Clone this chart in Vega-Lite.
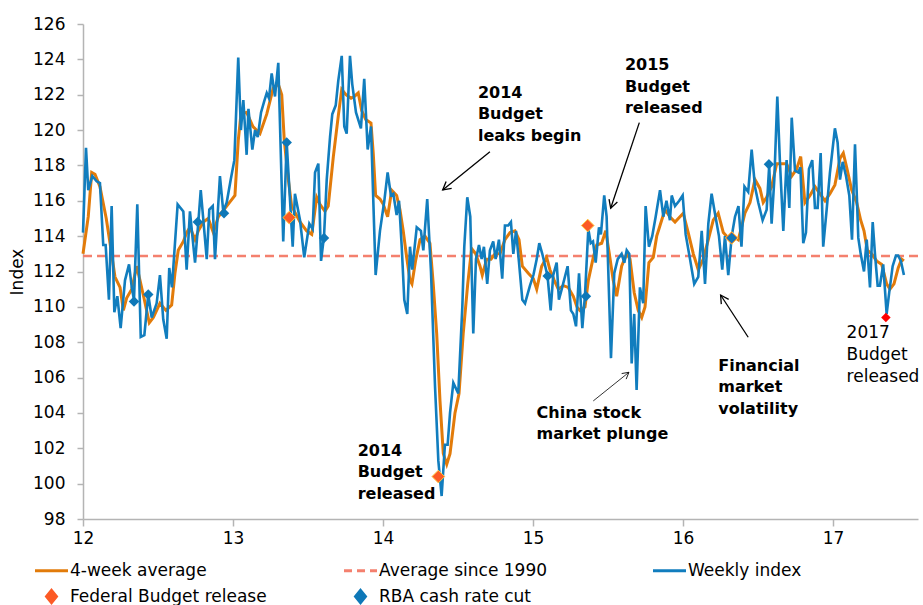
{
  "$schema": "https://vega.github.io/schema/vega-lite/v6.json",
  "width": 835,
  "height": 495,
  "autosize": {"type": "none"},
  "padding": {"left": 83, "top": 24, "right": 5, "bottom": 86},
  "background": "white",
  "config": {
    "view": {"stroke": null},
    "font": "DejaVu Sans",
    "axis": {"labelFont": "DejaVu Sans", "labelFontSize": 17, "labelColor": "#000", "domainColor": "#b4b4b4", "tickColor": "#b4b4b4", "domainWidth": 1.5, "tickWidth": 1.5, "grid": false, "titleFont": "DejaVu Sans", "titleFontSize": 17, "titleFontWeight": "normal", "titleColor": "#000", "labelOverlap": false, "labelFlush": false},
    "legend": {"labelFont": "DejaVu Sans", "labelFontSize": 17, "labelColor": "#000"}
  },
  "datasets": {
    "avgline": [{"v": 112.88}],
    "weekly": [
      {"t":12.000,"v":114.2},{"t":12.020,"v":119.0},{"t":12.035,"v":116.6},{"t":12.062,"v":117.4},{"t":12.091,"v":117.1},{"t":12.113,"v":117.0},{"t":12.135,"v":113.5},{"t":12.151,"v":113.5},{"t":12.173,"v":110.4},{"t":12.191,"v":115.7},{"t":12.209,"v":109.7},{"t":12.229,"v":110.6},{"t":12.251,"v":108.8},{"t":12.280,"v":111.5},{"t":12.307,"v":112.4},{"t":12.325,"v":111.1},{"t":12.340,"v":110.4},{"t":12.362,"v":115.8},{"t":12.385,"v":108.3},{"t":12.409,"v":108.4},{"t":12.435,"v":110.7},{"t":12.458,"v":109.4},{"t":12.491,"v":110.2},{"t":12.513,"v":111.8},{"t":12.535,"v":109.3},{"t":12.558,"v":108.2},{"t":12.575,"v":112.2},{"t":12.593,"v":111.1},{"t":12.631,"v":115.8},{"t":12.669,"v":115.4},{"t":12.691,"v":112.1},{"t":12.713,"v":115.4},{"t":12.747,"v":112.5},{"t":12.769,"v":114.8},{"t":12.785,"v":116.6},{"t":12.825,"v":112.7},{"t":12.842,"v":115.5},{"t":12.865,"v":115.7},{"t":12.880,"v":112.7},{"t":12.913,"v":117.4},{"t":12.935,"v":115.4},{"t":12.958,"v":115.9},{"t":12.985,"v":117.2},{"t":13.009,"v":118.3},{"t":13.035,"v":124.1},{"t":13.053,"v":120.0},{"t":13.069,"v":121.7},{"t":13.091,"v":118.6},{"t":13.103,"v":121.2},{"t":13.129,"v":118.9},{"t":13.147,"v":120.0},{"t":13.165,"v":119.6},{"t":13.187,"v":121.0},{"t":13.207,"v":121.6},{"t":13.225,"v":122.1},{"t":13.240,"v":121.8},{"t":13.258,"v":123.2},{"t":13.280,"v":121.9},{"t":13.302,"v":123.8},{"t":13.335,"v":113.7},{"t":13.358,"v":119.3},{"t":13.398,"v":113.4},{"t":13.413,"v":116.4},{"t":13.447,"v":114.9},{"t":13.475,"v":112.8},{"t":13.509,"v":114.7},{"t":13.531,"v":114.4},{"t":13.547,"v":117.6},{"t":13.569,"v":118.1},{"t":13.587,"v":112.6},{"t":13.607,"v":114.0},{"t":13.625,"v":117.2},{"t":13.647,"v":119.6},{"t":13.662,"v":120.9},{"t":13.685,"v":121.4},{"t":13.702,"v":122.8},{"t":13.725,"v":124.2},{"t":13.742,"v":120.2},{"t":13.758,"v":119.8},{"t":13.780,"v":124.2},{"t":13.795,"v":122.6},{"t":13.820,"v":121.0},{"t":13.853,"v":120.1},{"t":13.875,"v":122.9},{"t":13.898,"v":118.9},{"t":13.920,"v":120.2},{"t":13.951,"v":111.8},{"t":13.980,"v":114.3},{"t":14.009,"v":116.0},{"t":14.031,"v":117.6},{"t":14.053,"v":116.3},{"t":14.069,"v":116.4},{"t":14.091,"v":115.2},{"t":14.107,"v":116.0},{"t":14.125,"v":113.4},{"t":14.142,"v":110.4},{"t":14.162,"v":109.6},{"t":14.180,"v":113.4},{"t":14.195,"v":112.1},{"t":14.225,"v":114.5},{"t":14.253,"v":114.3},{"t":14.269,"v":113.2},{"t":14.295,"v":116.1},{"t":14.320,"v":112.0},{"t":14.347,"v":105.5},{"t":14.369,"v":101.3},{"t":14.391,"v":99.3},{"t":14.413,"v":102.2},{"t":14.431,"v":102.2},{"t":14.447,"v":104.0},{"t":14.469,"v":105.7},{"t":14.502,"v":105.1},{"t":14.529,"v":110.0},{"t":14.542,"v":113.4},{"t":14.562,"v":116.2},{"t":14.582,"v":115.1},{"t":14.602,"v":108.5},{"t":14.620,"v":112.7},{"t":14.640,"v":113.5},{"t":14.658,"v":112.7},{"t":14.673,"v":113.4},{"t":14.695,"v":111.3},{"t":14.713,"v":113.2},{"t":14.735,"v":113.7},{"t":14.751,"v":112.7},{"t":14.773,"v":113.8},{"t":14.795,"v":111.6},{"t":14.813,"v":114.6},{"t":14.835,"v":114.6},{"t":14.853,"v":114.8},{"t":14.869,"v":113.0},{"t":14.887,"v":114.3},{"t":14.907,"v":112.5},{"t":14.929,"v":110.4},{"t":14.947,"v":110.2},{"t":14.980,"v":111.2},{"t":15.003,"v":111.8},{"t":15.025,"v":112.7},{"t":15.042,"v":113.6},{"t":15.062,"v":113.0},{"t":15.097,"v":111.75},{"t":15.118,"v":109.8},{"t":15.135,"v":111.8},{"t":15.158,"v":112.5},{"t":15.173,"v":110.4},{"t":15.195,"v":111.1},{"t":15.231,"v":112.3},{"t":15.253,"v":109.8},{"t":15.269,"v":109.6},{"t":15.287,"v":108.9},{"t":15.307,"v":111.9},{"t":15.329,"v":108.8},{"t":15.347,"v":110.7},{"t":15.369,"v":114.4},{"t":15.385,"v":113.6},{"t":15.400,"v":113.7},{"t":15.418,"v":112.5},{"t":15.440,"v":114.5},{"t":15.453,"v":114.1},{"t":15.475,"v":116.3},{"t":15.491,"v":115.1},{"t":15.520,"v":107.1},{"t":15.542,"v":111.9},{"t":15.565,"v":112.7},{"t":15.591,"v":113.0},{"t":15.609,"v":112.5},{"t":15.625,"v":113.2},{"t":15.642,"v":113.0},{"t":15.658,"v":106.8},{"t":15.675,"v":109.6},{"t":15.691,"v":105.3},{"t":15.713,"v":111.1},{"t":15.735,"v":110.2},{"t":15.751,"v":115.7},{"t":15.773,"v":113.4},{"t":15.795,"v":114.0},{"t":15.818,"v":115.1},{"t":15.847,"v":116.6},{"t":15.869,"v":115.1},{"t":15.890,"v":116.0},{"t":15.913,"v":114.9},{"t":15.925,"v":116.3},{"t":15.947,"v":115.7},{"t":15.975,"v":116.0},{"t":15.998,"v":116.3},{"t":16.018,"v":114.1},{"t":16.047,"v":112.7},{"t":16.075,"v":111.3},{"t":16.102,"v":111.7},{"t":16.125,"v":114.3},{"t":16.147,"v":111.3},{"t":16.169,"v":114.7},{"t":16.191,"v":116.4},{"t":16.213,"v":115.3},{"t":16.240,"v":114.0},{"t":16.262,"v":112.1},{"t":16.280,"v":114.0},{"t":16.302,"v":111.8},{"t":16.325,"v":114.0},{"t":16.347,"v":115.1},{"t":16.370,"v":115.7},{"t":16.390,"v":113.4},{"t":16.410,"v":116.8},{"t":16.435,"v":116.5},{"t":16.458,"v":118.9},{"t":16.480,"v":116.8},{"t":16.502,"v":115.9},{"t":16.531,"v":114.9},{"t":16.558,"v":115.5},{"t":16.575,"v":118.0},{"t":16.591,"v":114.7},{"t":16.609,"v":117.2},{"t":16.629,"v":121.9},{"t":16.647,"v":118.1},{"t":16.669,"v":114.3},{"t":16.691,"v":118.3},{"t":16.709,"v":115.6},{"t":16.725,"v":120.7},{"t":16.747,"v":117.7},{"t":16.769,"v":117.6},{"t":16.783,"v":117.9},{"t":16.802,"v":113.6},{"t":16.820,"v":114.2},{"t":16.840,"v":117.8},{"t":16.862,"v":118.3},{"t":16.880,"v":115.6},{"t":16.898,"v":115.6},{"t":16.918,"v":118.7},{"t":16.935,"v":113.4},{"t":16.958,"v":115.5},{"t":16.980,"v":117.6},{"t":17.013,"v":120.1},{"t":17.031,"v":119.3},{"t":17.047,"v":117.2},{"t":17.065,"v":118.2},{"t":17.087,"v":117.4},{"t":17.109,"v":116.3},{"t":17.127,"v":113.8},{"t":17.147,"v":119.2},{"t":17.169,"v":113.9},{"t":17.185,"v":113.0},{"t":17.207,"v":112.0},{"t":17.225,"v":113.8},{"t":17.247,"v":111.1},{"t":17.265,"v":114.8},{"t":17.280,"v":113.0},{"t":17.298,"v":111.2},{"t":17.313,"v":111.2},{"t":17.335,"v":112.4},{"t":17.358,"v":109.6},{"t":17.375,"v":110.8},{"t":17.398,"v":112.3},{"t":17.420,"v":112.9},{"t":17.435,"v":112.9},{"t":17.453,"v":112.6},{"t":17.473,"v":111.8}
    ],
    "avg4": [
      {"t":12.000,"v":113.0},{"t":12.035,"v":115.1},{"t":12.058,"v":117.6},{"t":12.080,"v":117.5},{"t":12.113,"v":116.8},{"t":12.155,"v":115.0},{"t":12.191,"v":113.0},{"t":12.213,"v":111.7},{"t":12.247,"v":111.1},{"t":12.269,"v":109.8},{"t":12.291,"v":110.5},{"t":12.325,"v":111.0},{"t":12.358,"v":112.3},{"t":12.380,"v":111.5},{"t":12.409,"v":110.4},{"t":12.442,"v":109.1},{"t":12.469,"v":109.4},{"t":12.513,"v":110.2},{"t":12.553,"v":109.8},{"t":12.591,"v":110.1},{"t":12.613,"v":111.9},{"t":12.635,"v":113.2},{"t":12.669,"v":113.7},{"t":12.691,"v":114.2},{"t":12.713,"v":114.5},{"t":12.747,"v":113.8},{"t":12.769,"v":114.3},{"t":12.802,"v":114.8},{"t":12.835,"v":115.0},{"t":12.869,"v":114.2},{"t":12.902,"v":115.1},{"t":12.958,"v":115.7},{"t":13.013,"v":116.3},{"t":13.035,"v":119.4},{"t":13.053,"v":120.9},{"t":13.091,"v":121.0},{"t":13.133,"v":120.2},{"t":13.180,"v":119.8},{"t":13.225,"v":120.9},{"t":13.269,"v":122.4},{"t":13.302,"v":122.6},{"t":13.325,"v":122.0},{"t":13.342,"v":119.4},{"t":13.369,"v":117.2},{"t":13.391,"v":115.7},{"t":13.447,"v":114.8},{"t":13.491,"v":114.3},{"t":13.525,"v":114.1},{"t":13.558,"v":116.2},{"t":13.580,"v":115.8},{"t":13.613,"v":115.4},{"t":13.635,"v":115.7},{"t":13.669,"v":118.5},{"t":13.702,"v":120.8},{"t":13.725,"v":122.3},{"t":13.753,"v":122.0},{"t":13.787,"v":121.8},{"t":13.809,"v":121.9},{"t":13.835,"v":122.1},{"t":13.858,"v":121.1},{"t":13.885,"v":120.6},{"t":13.920,"v":120.4},{"t":13.935,"v":118.7},{"t":13.951,"v":116.3},{"t":13.980,"v":116.1},{"t":14.002,"v":115.8},{"t":14.031,"v":115.1},{"t":14.058,"v":116.6},{"t":14.091,"v":116.3},{"t":14.113,"v":115.5},{"t":14.135,"v":114.3},{"t":14.158,"v":112.8},{"t":14.180,"v":111.5},{"t":14.193,"v":111.3},{"t":14.217,"v":112.6},{"t":14.247,"v":113.8},{"t":14.280,"v":114.0},{"t":14.313,"v":113.6},{"t":14.335,"v":111.3},{"t":14.358,"v":108.5},{"t":14.380,"v":104.7},{"t":14.402,"v":101.7},{"t":14.425,"v":101.1},{"t":14.447,"v":101.7},{"t":14.480,"v":104.0},{"t":14.507,"v":105.1},{"t":14.535,"v":108.5},{"t":14.565,"v":111.3},{"t":14.591,"v":113.3},{"t":14.618,"v":113.0},{"t":14.647,"v":112.3},{"t":14.662,"v":111.8},{"t":14.691,"v":112.7},{"t":14.720,"v":112.7},{"t":14.747,"v":113.0},{"t":14.780,"v":113.0},{"t":14.813,"v":113.8},{"t":14.847,"v":114.2},{"t":14.880,"v":114.3},{"t":14.907,"v":113.8},{"t":14.929,"v":112.3},{"t":14.969,"v":111.9},{"t":15.002,"v":111.6},{"t":15.025,"v":111.0},{"t":15.058,"v":112.3},{"t":15.091,"v":112.8},{"t":15.113,"v":112.1},{"t":15.142,"v":111.5},{"t":15.169,"v":111.0},{"t":15.202,"v":111.2},{"t":15.235,"v":111.1},{"t":15.269,"v":110.6},{"t":15.293,"v":110.0},{"t":15.313,"v":109.8},{"t":15.347,"v":110.0},{"t":15.369,"v":111.5},{"t":15.402,"v":112.8},{"t":15.425,"v":113.5},{"t":15.458,"v":113.6},{"t":15.485,"v":114.3},{"t":15.509,"v":113.0},{"t":15.535,"v":111.5},{"t":15.558,"v":110.6},{"t":15.591,"v":112.3},{"t":15.625,"v":113.0},{"t":15.647,"v":112.7},{"t":15.675,"v":110.8},{"t":15.702,"v":109.8},{"t":15.725,"v":109.4},{"t":15.747,"v":110.0},{"t":15.773,"v":112.5},{"t":15.802,"v":112.8},{"t":15.825,"v":114.0},{"t":15.858,"v":114.9},{"t":15.880,"v":115.5},{"t":15.913,"v":115.1},{"t":15.947,"v":114.8},{"t":15.980,"v":115.1},{"t":16.002,"v":115.3},{"t":16.035,"v":114.2},{"t":16.069,"v":113.0},{"t":16.102,"v":112.1},{"t":16.135,"v":112.7},{"t":16.169,"v":113.8},{"t":16.202,"v":114.9},{"t":16.235,"v":115.3},{"t":16.269,"v":114.2},{"t":16.302,"v":113.9},{"t":16.335,"v":114.0},{"t":16.369,"v":113.8},{"t":16.393,"v":114.6},{"t":16.413,"v":115.3},{"t":16.447,"v":115.9},{"t":16.480,"v":117.2},{"t":16.513,"v":116.7},{"t":16.535,"v":115.9},{"t":16.558,"v":116.2},{"t":16.591,"v":116.8},{"t":16.625,"v":118.1},{"t":16.658,"v":118.1},{"t":16.691,"v":118.1},{"t":16.725,"v":117.4},{"t":16.758,"v":117.8},{"t":16.785,"v":118.5},{"t":16.813,"v":115.9},{"t":16.847,"v":116.3},{"t":16.880,"v":116.8},{"t":16.913,"v":116.4},{"t":16.947,"v":116.0},{"t":16.980,"v":116.4},{"t":17.013,"v":116.9},{"t":17.047,"v":118.4},{"t":17.069,"v":118.7},{"t":17.091,"v":117.9},{"t":17.125,"v":116.6},{"t":17.158,"v":115.9},{"t":17.185,"v":114.9},{"t":17.207,"v":114.3},{"t":17.229,"v":113.2},{"t":17.258,"v":113.0},{"t":17.291,"v":112.6},{"t":17.325,"v":112.4},{"t":17.358,"v":111.3},{"t":17.380,"v":111.0},{"t":17.407,"v":111.3},{"t":17.435,"v":112.2},{"t":17.458,"v":112.7},{"t":17.473,"v":112.6}
    ],
    "budget": [{"t":13.375,"v":115.05},{"t":14.369,"v":100.4},{"t":15.365,"v":114.6},{"t":16.325,"v":113.9},{"t":17.353,"v":109.4}],
    "rba": [{"t":12.340,"v":110.3},{"t":12.435,"v":110.7},{"t":12.765,"v":114.8},{"t":12.940,"v":115.3},{"t":13.358,"v":119.3},{"t":13.607,"v":113.9},{"t":15.098,"v":111.75},{"t":15.353,"v":110.6},{"t":16.325,"v":113.9},{"t":16.573,"v":118.06}],
    "arrows": [
      {"name":"leaks","t":14.713,"v":118.78,"t2":14.398,"v2":116.61},
      {"name":"b2015","t":15.709,"v":120.42,"t2":15.518,"v2":115.58},
      {"name":"fin","t":16.435,"v":108.28,"t2":16.251,"v2":110.67},
      {"name":"china","t":15.402,"v":104.68,"t2":15.64,"v2":106.30}
    ],
    "notesBold": [
      {"t":14.633,"v":122.10,"label":"2014\nBudget\nleaks begin"},
      {"t":15.613,"v":123.68,"label":"2015\nBudget\nreleased"},
      {"t":13.831,"v":101.85,"label":"2014\nBudget\nreleased"},
      {"t":15.024,"v":104.01,"label":"China stock\nmarket plunge"},
      {"t":16.235,"v":106.66,"label":"Financial\nmarket\nvolatility"}
    ],
    "notesRegular": [
      {"t":17.091,"v":108.51,"label":"2017\nBudget\nreleased"}
    ]
  },
  "encoding": {
    "x": {"field": "t", "type": "quantitative", "scale": {"domain": [12, 17.567], "nice": false, "zero": false}, "axis": {"values": [12, 13, 14, 15, 16, 17], "format": "d", "title": null, "tickSize": 7, "labelPadding": 4, "labelOverlap": false, "labelFlush": false}},
    "y": {"field": "v", "type": "quantitative", "scale": {"domain": [98, 126], "nice": false, "zero": false}, "axis": {"values": [98, 100, 102, 104, 106, 108, 110, 112, 114, 116, 118, 120, 122, 124, 126], "format": "d", "title": "Index", "tickSize": 6, "labelPadding": 12, "titlePadding": 6, "labelOverlap": false, "labelFlush": false, "labelBound": false, "labelSeparation": 0}}
  },
  "layer": [
    {
      "data": {"name": "avgline"},
      "mark": {"type": "rule", "strokeDash": [9, 5], "strokeWidth": 2.5},
      "encoding": {
        "x": null,
        "color": {
          "datum": "Average since 1990",
          "type": "nominal",
          "scale": {
            "domain": ["4-week average", "Average since 1990", "Weekly index", "Federal Budget release", "RBA cash rate cut"],
            "range": ["#e27b0a", "#f4806e", "#117dbe", "#fc5a25", "#0e78b8"]
          },
          "legend": {
            "orient": "none",
            "legendX": -44,
            "legendY": 532,
            "direction": "horizontal",
            "columns": 3,
            "title": null,
            "gridAlign": "all",
            "columnPadding": 71,
            "rowPadding": 3,
            "padding": 0,
            "symbolSize": 484,
            "symbolType": "M-1.5,0H1.5",
            "symbolStrokeWidth": 3,
            "labelOffset": 6,
            "labelLimit": 400,
            "encode": {
              "symbols": {
                "update": {
                  "size": {"value": 484},
                  "shape": {"signal": "datum.value == 'Federal Budget release' || datum.value == 'RBA cash rate cut' ? 'M0,-0.55L0.45,0L0,0.55L-0.45,0Z' : 'M-1.5,0H1.5'"},
                  "fill": {"signal": "datum.value == 'Federal Budget release' ? '#fc5a25' : datum.value == 'RBA cash rate cut' ? '#0e78b8' : 'transparent'"},
                  "stroke": {"signal": "datum.value == 'Federal Budget release' || datum.value == 'RBA cash rate cut' ? 'transparent' : datum.value == '4-week average' ? '#e27b0a' : datum.value == 'Weekly index' ? '#117dbe' : '#f4806e'"},
                  "strokeDash": {"signal": "datum.value == 'Average since 1990' ? [8, 5] : null"},
                  "opacity": {"value": 1}
                }
              }
            }
          }
        }
      }
    },
    {
      "data": {"name": "avg4"},
      "mark": {"type": "line", "strokeWidth": 3},
      "encoding": {"color": {"datum": "4-week average", "type": "nominal"}}
    },
    {
      "data": {"name": "weekly"},
      "mark": {"type": "line", "strokeWidth": 2.6},
      "encoding": {"color": {"datum": "Weekly index", "type": "nominal"}}
    },
    {
      "data": {"name": "budget"},
      "transform": [{"filter": "datum.t < 17"}],
      "mark": {"type": "point", "shape": "diamond", "filled": true, "size": 160, "stroke": "#ffc83c", "strokeWidth": 1, "opacity": 1},
      "encoding": {"color": {"datum": "Federal Budget release", "type": "nominal"}}
    },
    {
      "data": {"name": "budget"},
      "transform": [{"filter": "datum.t > 17"}],
      "mark": {"type": "point", "shape": "diamond", "filled": true, "size": 90, "color": "#ff0000", "opacity": 1}
    },
    {
      "data": {"name": "rba"},
      "mark": {"type": "point", "shape": "diamond", "filled": true, "size": 110, "opacity": 1},
      "encoding": {"color": {"datum": "RBA cash rate cut", "type": "nominal"}}
    },
    {
      "data": {"name": "arrows"},
      "transform": [{"filter": "datum.name != 'china'"}],
      "mark": {"type": "rule", "color": "#000", "strokeWidth": 1.3},
      "encoding": {"x2": {"field": "t2"}, "y2": {"field": "v2"}}
    },
    {
      "data": {"name": "arrows"},
      "transform": [{"filter": "datum.name == 'china'"}],
      "mark": {"type": "rule", "color": "#000", "strokeWidth": 0.8},
      "encoding": {"x2": {"field": "t2"}, "y2": {"field": "v2"}}
    },
    {
      "data": {"name": "arrows"},
      "transform": [{"filter": "datum.name == 'leaks'"}],
      "mark": {"type": "point", "shape": "M-1,-0.55L0,0L-1,0.55", "filled": false, "color": "#000", "strokeWidth": 1.3, "size": 256, "angle": 141, "opacity": 1},
      "encoding": {"x": {"field": "t2", "type": "quantitative"}, "y": {"field": "v2", "type": "quantitative"}}
    },
    {
      "data": {"name": "arrows"},
      "transform": [{"filter": "datum.name == 'b2015'"}],
      "mark": {"type": "point", "shape": "M-1,-0.55L0,0L-1,0.55", "filled": false, "color": "#000", "strokeWidth": 1.3, "size": 256, "angle": 108.5, "opacity": 1},
      "encoding": {"x": {"field": "t2", "type": "quantitative"}, "y": {"field": "v2", "type": "quantitative"}}
    },
    {
      "data": {"name": "arrows"},
      "transform": [{"filter": "datum.name == 'fin'"}],
      "mark": {"type": "point", "shape": "M-1,-0.55L0,0L-1,0.55", "filled": false, "color": "#000", "strokeWidth": 1.3, "size": 256, "angle": 236.9, "opacity": 1},
      "encoding": {"x": {"field": "t2", "type": "quantitative"}, "y": {"field": "v2", "type": "quantitative"}}
    },
    {
      "data": {"name": "arrows"},
      "transform": [{"filter": "datum.name == 'china'"}],
      "mark": {"type": "point", "shape": "M-1,-0.55L0,0L-1,0.55", "filled": false, "color": "#000", "strokeWidth": 0.8, "size": 169, "angle": 321.2, "opacity": 1},
      "encoding": {"x": {"field": "t2", "type": "quantitative"}, "y": {"field": "v2", "type": "quantitative"}}
    },
    {
      "data": {"name": "notesBold"},
      "mark": {"type": "text", "align": "left", "baseline": "middle", "lineBreak": "\n", "font": "DejaVu Sans", "fontSize": 16, "fontWeight": "bold", "lineHeight": 21.5, "color": "#000"},
      "encoding": {"text": {"field": "label"}}
    },
    {
      "data": {"name": "notesRegular"},
      "mark": {"type": "text", "align": "left", "baseline": "middle", "lineBreak": "\n", "font": "DejaVu Sans", "fontSize": 17, "lineHeight": 21.7, "color": "#000"},
      "encoding": {"text": {"field": "label"}}
    }
  ]
}
